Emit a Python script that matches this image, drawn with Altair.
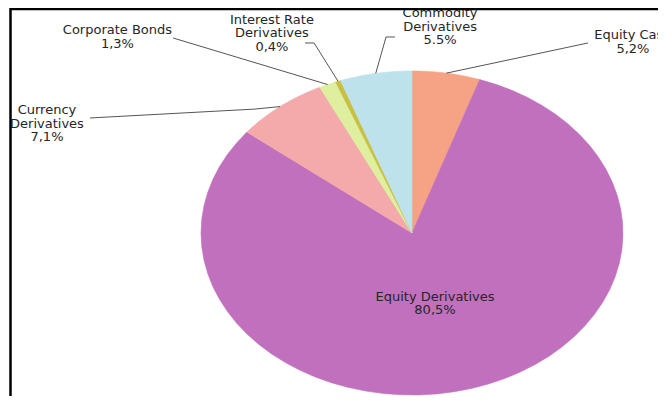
import altair as alt
import pandas as pd

# ---- data ----
categories = ["Equity Cash", "Equity Derivatives", "Currency Derivatives",
              "Corporate Bonds", "Interest Rate Derivatives", "Commodity Derivatives"]
shares = [5.2, 80.5, 7.1, 1.3, 0.4, 5.5]
label_texts = ["Equity Cash\n5,2%", "Equity Derivatives\n80,5%",
               "Currency\nDerivatives\n7,1%", "Corporate Bonds\n1,3%",
               "Interest Rate\nDerivatives\n0,4%", "Commodity\nDerivatives\n5.5%"]
colors = ["#F5A285", "#C070BC", "#F4AAAA", "#DEF0A0", "#C8C040", "#BEE2EC"]

# ---- label placement (unit-circle coordinates) ----
label_u = [1.047, 0.109, -1.730, -1.396, -0.664, 0.133]
label_v = [1.259, -0.358, 0.796, 1.290, 1.352, 1.395]
# leader paths: first point (None) is the slice edge at its mid angle
leader_u = [[None, 0.834], [], [None, -0.744, -1.526], [None, -1.133],
            [None, -0.464, -0.507], [None, -0.123, -0.081]]
leader_v = [[None, 1.173], [], [None, 0.765, 0.710], [None, 1.204],
            [None, 1.173, 1.173], [None, 1.210, 1.210]]
leader_k = [list(range(len(p))) for p in leader_u]

df = pd.DataFrame({
    "category": categories,
    "value": shares,
    "label": label_texts,
    "lx": label_u,
    "ly": label_v,
    "lu": leader_u,
    "lv": leader_v,
    "lk": leader_k,
})

W, H = 650, 388
xs = alt.Scale(domain=[-1.9147, 1.1659], nice=False, zero=False)
ys = alt.Scale(domain=[-1.0062, 1.3889], nice=False, zero=False)
cs = alt.Scale(domain=categories, range=colors)

base = alt.Chart(df).transform_window(
    cum="sum(value)", frame=[None, 0]
).transform_joinaggregate(total="sum(value)").transform_calculate(
    a0="2*PI*(datum.cum - datum.value)/datum.total",
    a1="2*PI*datum.cum/datum.total",
    mid="2*PI*(datum.cum - datum.value/2)/datum.total",
)

pie = base.transform_calculate(
    k="sequence(-1, 61)"
).transform_flatten(["k"]).transform_calculate(
    ang="datum.a0 + (datum.a1 - datum.a0) * max(datum.k, 0) / 60",
    u="datum.k < 0 ? 0 : sin(datum.ang)",
    v="datum.k < 0 ? 0 : cos(datum.ang)",
).mark_line(interpolate="linear-closed", strokeWidth=0.6).encode(
    x=alt.X("u:Q", scale=xs, axis=None),
    y=alt.Y("v:Q", scale=ys, axis=None),
    detail="category:N",
    order=alt.Order("k:Q"),
    fill=alt.Fill("category:N", scale=cs, legend=None),
    stroke=alt.Stroke("category:N", scale=cs, legend=None),
)

leaders = base.transform_flatten(["lu", "lv", "lk"]).transform_calculate(
    px="datum.lk == 0 ? sin(datum.mid) : datum.lu",
    py="datum.lk == 0 ? cos(datum.mid) : datum.lv",
).mark_line(color="#555555", strokeWidth=1).encode(
    x=alt.X("px:Q", scale=xs, axis=None),
    y=alt.Y("py:Q", scale=ys, axis=None),
    detail="category:N",
    order=alt.Order("lk:Q"),
)

labels = alt.Chart(df).mark_text(
    align="center", baseline="top", lineBreak="\n", lineHeight=13.5,
    font="DejaVu Sans", fontSize=13, color="#262626",
).encode(
    x=alt.X("lx:Q", scale=xs, axis=None),
    y=alt.Y("ly:Q", scale=ys, axis=None),
    text="label:N",
)

frame_df = pd.DataFrame({"f": [0]})
top_rule = alt.Chart(frame_df).mark_rule(color="black", strokeWidth=2.5).encode(
    x=alt.value(2), x2=alt.value(W), y=alt.value(1)
)
left_rule = alt.Chart(frame_df).mark_rule(color="black", strokeWidth=2.5).encode(
    x=alt.value(2.5), y=alt.value(0), y2=alt.value(H + 10)
)

chart = alt.layer(pie, leaders, labels, top_rule, left_rule).properties(
    width=W, height=H, padding=0, autosize=alt.AutoSizeParams(type="none"),
    background="white",
).configure_view(stroke=None)

chart.save("out.html", embed_options={"renderer": "svg", "actions": False})
